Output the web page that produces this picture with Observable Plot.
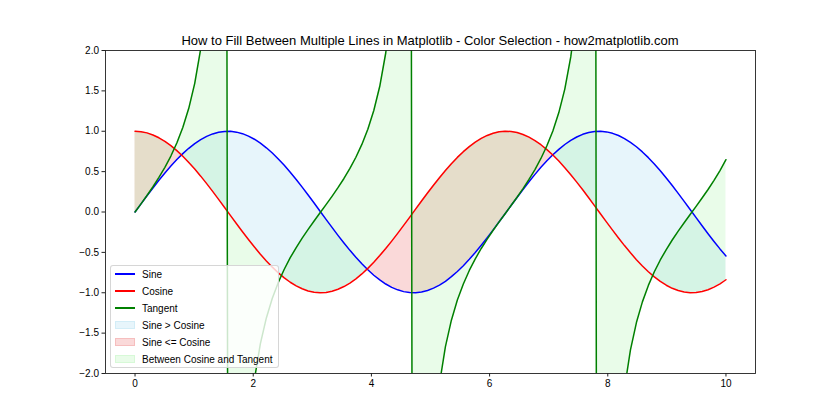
<!DOCTYPE html>
<html><head><meta charset="utf-8">
<script src="https://cdn.jsdelivr.net/npm/d3@7"></script>
<script src="https://cdn.jsdelivr.net/npm/@observablehq/plot@0.6"></script>
<style>
body{margin:0;background:#fff;}
#wrap{position:relative;width:840px;height:420px;font-family:"Liberation Sans",Arial,sans-serif;color:#000;}
#title{position:absolute;left:105px;width:650px;top:33px;text-align:center;font-size:13px;}
#legend{position:absolute;left:110px;top:265px;width:169px;height:103px;border:1px solid rgba(204,204,204,0.8);background:rgba(255,255,255,0.8);border-radius:3px;font-size:10px;box-sizing:border-box;}
.row{position:absolute;left:0;width:100%;height:17px;}
.h{position:absolute;left:4px;width:20px;}
.hl{top:7px;height:2px;}
.hp{top:4px;height:8px;box-sizing:border-box;border:1px solid;}
.lt{position:absolute;left:31px;top:1px;line-height:15px;white-space:nowrap;}
</style></head>
<body><div id="wrap"></div>
<script>
const xs = [0,0.1010,0.2020,0.3030,0.4040,0.5051,0.6061,0.7071,0.8081,0.9091,1.0101,1.1111,1.2121,1.3131,1.4141,1.5152,1.6162,1.7172,1.8182,1.9192,2.0202,2.1212,2.2222,2.3232,2.4242,2.5253,2.6263,2.7273,2.8283,2.9293,3.0303,3.1313,3.2323,3.3333,3.4343,3.5354,3.6364,3.7374,3.8384,3.9394,4.0404,4.1414,4.2424,4.3434,4.4444,4.5455,4.6465,4.7475,4.8485,4.9495,5.0505,5.1515,5.2525,5.3535,5.4545,5.5556,5.6566,5.7576,5.8586,5.9596,6.0606,6.1616,6.2626,6.3636,6.4646,6.5657,6.6667,6.7677,6.8687,6.9697,7.0707,7.1717,7.2727,7.3737,7.4747,7.5758,7.6768,7.7778,7.8788,7.9798,8.0808,8.1818,8.2828,8.3838,8.4848,8.5859,8.6869,8.7879,8.8889,8.9899,9.0909,9.1919,9.2929,9.3939,9.4949,9.5960,9.6970,9.7980,9.8990,10];
const sine = [0,0.101,0.201,0.298,0.393,0.484,0.570,0.650,0.723,0.789,0.847,0.896,0.936,0.967,0.988,0.998,0.999,0.989,0.970,0.940,0.901,0.852,0.795,0.730,0.657,0.578,0.493,0.403,0.308,0.211,0.111,0.010,-0.091,-0.191,-0.289,-0.384,-0.475,-0.561,-0.642,-0.716,-0.783,-0.841,-0.892,-0.933,-0.964,-0.986,-0.998,-0.999,-0.991,-0.972,-0.943,-0.905,-0.858,-0.801,-0.737,-0.665,-0.586,-0.502,-0.412,-0.318,-0.221,-0.121,-0.021,0.080,0.180,0.279,0.374,0.466,0.553,0.634,0.709,0.776,0.836,0.887,0.929,0.962,0.984,0.997,1.000,0.992,0.974,0.947,0.909,0.863,0.808,0.744,0.673,0.595,0.511,0.421,0.328,0.231,0.131,0.031,-0.070,-0.170,-0.269,-0.365,-0.457,-0.544];
const cosine = [1,0.995,0.980,0.954,0.919,0.875,0.822,0.760,0.691,0.614,0.532,0.444,0.351,0.255,0.156,0.056,-0.045,-0.146,-0.245,-0.341,-0.434,-0.523,-0.606,-0.683,-0.754,-0.816,-0.870,-0.915,-0.951,-0.978,-0.994,-1.000,-0.996,-0.982,-0.957,-0.923,-0.880,-0.828,-0.767,-0.698,-0.623,-0.540,-0.453,-0.361,-0.265,-0.166,-0.066,0.035,0.136,0.235,0.332,0.425,0.514,0.598,0.676,0.747,0.810,0.865,0.911,0.948,0.975,0.993,1.000,0.997,0.984,0.960,0.927,0.885,0.833,0.773,0.706,0.631,0.549,0.462,0.370,0.275,0.176,0.076,-0.025,-0.125,-0.225,-0.322,-0.416,-0.505,-0.590,-0.668,-0.740,-0.804,-0.860,-0.907,-0.945,-0.973,-0.991,-1.000,-0.998,-0.985,-0.963,-0.931,-0.890,-0.839];
const tangent = [0,0.101,0.205,0.313,0.428,0.553,0.693,0.855,1.047,1.284,1.593,2.020,2.667,3.795,6.331,17.95,-22.03,-6.783,-3.959,-2.753,-2.074,-1.630,-1.312,-1.068,-0.872,-0.709,-0.566,-0.440,-0.324,-0.216,-0.112,-0.010,0.091,0.194,0.301,0.415,0.540,0.678,0.837,1.025,1.257,1.557,1.969,2.586,3.642,5.934,15.15,-28.50,-7.303,-4.138,-2.844,-2.129,-1.668,-1.340,-1.090,-0.891,-0.724,-0.580,-0.452,-0.335,-0.226,-0.122,-0.021,0.081,0.183,0.290,0.403,0.526,0.663,0.820,1.004,1.231,1.522,1.920,2.509,3.501,5.584,13.10,-40.31,-7.906,-4.333,-2.940,-2.187,-1.707,-1.369,-1.113,-0.909,-0.740,-0.594,-0.465,-0.347,-0.237,-0.133,-0.031,0.070,0.173,0.279,0.392,0.513,0.648];
const xTicks = [0,2,4,6,8,10];
const yTicks = [-2,-1.5,-1,-0.5,0,0.5,1,1.5,2];
const titleText = "How to Fill Between Multiple Lines in Matplotlib - Color Selection - how2matplotlib.com";
const legendItems = [
  {label:"Sine", kind:"line", color:"blue"},
  {label:"Cosine", kind:"line", color:"red"},
  {label:"Tangent", kind:"line", color:"green"},
  {label:"Sine > Cosine", kind:"patch", color:"skyblue", alpha:0.2},
  {label:"Sine <= Cosine", kind:"patch", color:"lightcoral", alpha:0.3},
  {label:"Between Cosine and Tangent", kind:"patch", color:"lightgreen", alpha:0.2}
];

const data = xs.map((x,i)=>({x, s:sine[i], c:cosine[i], t:tangent[i]}));
const fmt = d => d.toFixed(1).replace("-", "\u2212");

const chart = Plot.plot({
  width: 840, height: 420,
  marginLeft: 105, marginRight: 85, marginTop: 50, marginBottom: 47,
  style: {fontSize: "10px", fontFamily: "'Liberation Sans', Arial, sans-serif", background: "white", color: "black"},
  x: {domain: [-0.5, 10.5]},
  y: {domain: [-2, 2]},
  marks: [
    Plot.areaY(data, {x:"x", y1:"c", y2: d => Math.max(d.s, d.c), fill:"skyblue", fillOpacity:0.2, clip:true}),
    Plot.areaY(data, {x:"x", y1:"c", y2: d => Math.min(d.s, d.c), fill:"lightcoral", fillOpacity:0.3, clip:true}),
    Plot.areaY(data, {x:"x", y1:"c", y2:"t", fill:"lightgreen", fillOpacity:0.2, clip:true}),
    Plot.line(data, {x:"x", y:"s", stroke:"blue", strokeWidth:1.5, clip:true}),
    Plot.line(data, {x:"x", y:"c", stroke:"red", strokeWidth:1.5, clip:true}),
    Plot.line(data, {x:"x", y:"t", stroke:"green", strokeWidth:1.5, clip:true}),
    Plot.frame({stroke:"#222", strokeWidth:0.9}),
    Plot.axisX({ticks: xTicks, tickSize: 3.5, tickPadding: 3, tickFormat: d => String(d), label: null, stroke:"#222"}),
    Plot.axisY({ticks: yTicks, tickSize: 3.5, tickPadding: 3, tickFormat: fmt, label: null, stroke:"#222"})
  ]
});

const wrap = document.getElementById("wrap");
wrap.appendChild(chart);
const t = document.createElement("div");
t.id = "title"; t.textContent = titleText;
wrap.appendChild(t);
const lg = document.createElement("div");
lg.id = "legend";
legendItems.forEach((it, i) => {
  const r = document.createElement("div");
  r.className = "row"; r.style.top = (i*17) + "px";
  const h = document.createElement("div");
  if (it.kind === "line") { h.className = "h hl"; h.style.background = it.color; }
  else {
    const c = d3.color(it.color); c.opacity = it.alpha;
    h.className = "h hp"; h.style.background = c.formatRgb(); h.style.borderColor = c.formatRgb();
  }
  const l = document.createElement("div");
  l.className = "lt"; l.textContent = it.label;
  r.appendChild(h); r.appendChild(l); lg.appendChild(r);
});
wrap.appendChild(lg);
</script>
</body></html>
